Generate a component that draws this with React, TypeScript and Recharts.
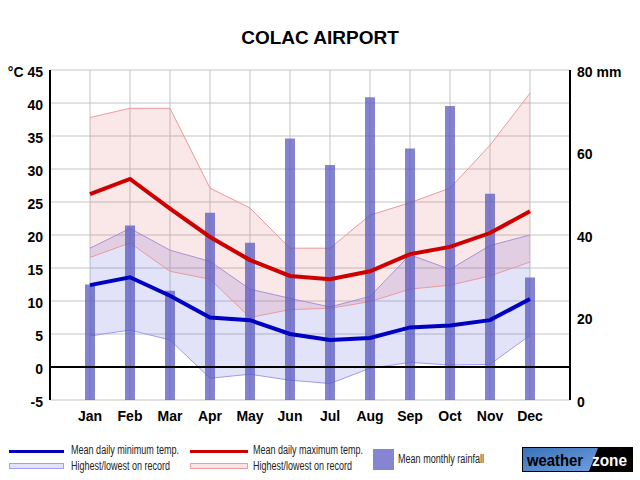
import React from "react";
import {
  Area,
  Bar,
  CartesianGrid,
  ComposedChart,
  Line,
  ReferenceLine,
  XAxis,
  YAxis,
} from "recharts";

const months = ["Jan", "Feb", "Mar", "Apr", "May", "Jun", "Jul", "Aug", "Sep", "Oct", "Nov", "Dec"];
const rainfall = [28, 42.3, 26.5, 45.4, 38.1, 63.4, 57, 73.4, 61, 71.3, 50, 29.7];
const meanMax = [26.2, 28.5, 24.0, 19.7, 16.2, 13.8, 13.3, 14.5, 17.1, 18.2, 20.3, 23.6];
const meanMin = [12.4, 13.6, 10.8, 7.5, 7.1, 5.0, 4.1, 4.4, 6.0, 6.3, 7.1, 10.3];
const highestMax = [37.8, 39.2, 39.2, 27.1, 24.1, 18.0, 18.0, 23.0, 24.9, 27.1, 33.6, 41.5];
const lowestMax = [16.6, 18.8, 14.5, 13.3, 7.5, 8.7, 8.9, 9.9, 11.8, 12.4, 13.8, 15.9];
const highestMin = [18.0, 21.0, 17.7, 16.0, 11.8, 10.4, 9.1, 10.7, 17.0, 14.8, 18.4, 20.0];
const lowestMin = [4.7, 5.6, 4.1, -1.7, -1.1, -2.0, -2.5, -0.2, 0.7, 0.3, 0.4, 4.8];
const tempTicks = [-5, 0, 5, 10, 15, 20, 25, 30, 35, 40, 45];
const rainTicks = [0, 20, 40, 60, 80];

const chartData = months.map((m, i) => ({
  month: m,
  rain: rainfall[i],
  max: meanMax[i],
  min: meanMin[i],
  maxRange: [lowestMax[i], highestMax[i]],
  minRange: [lowestMin[i], highestMin[i]],
}));

const tickStyle = { fill: "#000", fontSize: 14, fontWeight: "bold" as const };
const yTickStyle = { ...tickStyle, dy: 2 };
const legendFont = { fontSize: 12, fontFamily: "Arial, 'Liberation Sans', sans-serif", fill: "#222" };

function Overlay() {
  return (
    <svg
      width={640}
      height={480}
      style={{ position: "absolute", left: 0, top: 0, pointerEvents: "none" }}
    >
      <defs>
        <linearGradient id="wzBlue" x1="0" y1="0" x2="1" y2="1">
          <stop offset="0%" stopColor="#3a72ba" />
          <stop offset="100%" stopColor="#6f9fdc" />
        </linearGradient>
      </defs>
      <text
        x={320}
        y={44}
        textAnchor="middle"
        style={{ fontSize: 19, fontWeight: "bold", fontFamily: "Arial, 'Liberation Sans', sans-serif" }}
      >
        COLAC AIRPORT
      </text>

      {/* legend */}
      <rect x={9} y={450} width={55} height={3} fill="#0000c0" />
      <text x={71} y={454} textLength={108} lengthAdjust="spacingAndGlyphs" style={legendFont}>
        Mean daily minimum temp.
      </text>
      <rect x={9.5} y={463.5} width={54} height={5} fill="#e2e2f8" stroke="#a0a0ee" />
      <text x={71} y={470} textLength={99} lengthAdjust="spacingAndGlyphs" style={legendFont}>
        Highest/lowest on record
      </text>

      <rect x={190} y={450} width={58} height={3} fill="#cc0000" />
      <text x={253} y={454} textLength={110} lengthAdjust="spacingAndGlyphs" style={legendFont}>
        Mean daily maximum temp.
      </text>
      <rect x={190.5} y={463.5} width={57} height={5} fill="#fae4e4" stroke="#e8a0a0" />
      <text x={253} y={470} textLength={99} lengthAdjust="spacingAndGlyphs" style={legendFont}>
        Highest/lowest on record
      </text>

      <rect x={373} y={449} width={21} height={21} fill="#8585d2" />
      <text x={398} y={463} textLength={86} lengthAdjust="spacingAndGlyphs" style={legendFont}>
        Mean monthly rainfall
      </text>

      {/* logo */}
      <rect x={522} y={447} width={111} height={25} fill="#000" />
      <polygon points="523,448 598,448 589,471 523,471" fill="url(#wzBlue)" />
      <text
        x={527}
        y={466}
        style={{ fontSize: 16, fontWeight: "bold", fontFamily: "Arial, 'Liberation Sans', sans-serif" }}
        fill="#000"
        textLength={56}
        lengthAdjust="spacingAndGlyphs"
      >
        weather
      </text>
      <text
        x={592}
        y={466}
        style={{ fontSize: 16, fontWeight: "bold", fontFamily: "Arial, 'Liberation Sans', sans-serif" }}
        fill="#fff"
        textLength={35}
        lengthAdjust="spacingAndGlyphs"
      >
        zone
      </text>
    </svg>
  );
}

export default function App() {
  return (
    <div
      style={{
        position: "absolute",
        left: 0,
        top: 0,
        width: 640,
        height: 480,
        background: "#fff",
        fontFamily: "Arial, 'Liberation Sans', sans-serif",
      }}
    >
      <ComposedChart
        width={640}
        height={480}
        data={chartData}
        margin={{ top: 70, right: 0, bottom: 50, left: 0 }}
      >
        <CartesianGrid yAxisId="temp" stroke="#c4c4c4" strokeWidth={1} />
        <XAxis
          dataKey="month"
          padding={{ left: 20, right: 20 }}
          axisLine={false}
          tickLine={false}
          tickSize={9}
          tickMargin={2}
          height={30}
          tick={tickStyle}
          interval={0}
        />
        <YAxis
          yAxisId="temp"
          domain={[-5, 45]}
          ticks={tempTicks}
          width={50}
          interval={0}
          tickLine={false}
          tickSize={5}
          tickMargin={2}
          axisLine={{ stroke: "#000", strokeWidth: 2 }}
          tick={yTickStyle}
          tickFormatter={(v: number) => (v === 45 ? "°C 45" : String(v))}
        />
        <YAxis
          yAxisId="rain"
          orientation="right"
          domain={[0, 80]}
          ticks={rainTicks}
          width={70}
          interval={0}
          tickLine={false}
          tickSize={5}
          tickMargin={2}
          axisLine={{ stroke: "#000", strokeWidth: 2 }}
          tick={yTickStyle}
          tickFormatter={(v: number) => (v === 80 ? "80 mm" : String(v))}
        />
        <Area
          yAxisId="temp"
          type="linear"
          dataKey="minRange"
          stroke="#9c9cf0"
          strokeWidth={1}
          fill="#6060e0"
          fillOpacity={0.18}
          isAnimationActive={false}
        />
        <Area
          yAxisId="temp"
          type="linear"
          dataKey="maxRange"
          stroke="#eb9a9a"
          strokeWidth={1}
          fill="#e06060"
          fillOpacity={0.15}
          isAnimationActive={false}
        />
        <ReferenceLine yAxisId="temp" y={0} stroke="#000" strokeWidth={2} />
        <Bar
          yAxisId="rain"
          dataKey="rain"
          barSize={10}
          fill="#5a5ac0"
          fillOpacity={0.75}
          isAnimationActive={false}
        />
        <Line
          yAxisId="temp"
          type="linear"
          dataKey="min"
          stroke="#0000c0"
          strokeWidth={4}
          dot={false}
          isAnimationActive={false}
        />
        <Line
          yAxisId="temp"
          type="linear"
          dataKey="max"
          stroke="#cc0000"
          strokeWidth={4}
          dot={false}
          isAnimationActive={false}
        />
      </ComposedChart>
      <Overlay />
    </div>
  );
}
